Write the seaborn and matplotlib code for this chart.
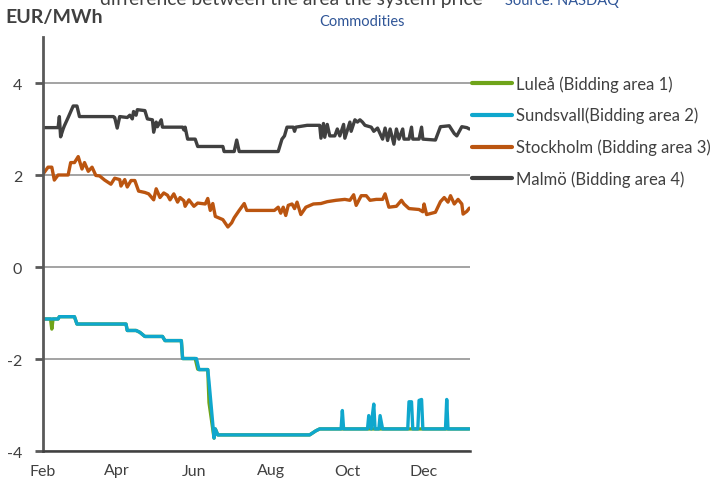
import matplotlib
matplotlib.use("Agg")
import matplotlib.pyplot as plt
import matplotlib.dates as mdates
import pandas as pd
import seaborn as sns

# Area price difference vs. system price, EUR/MWh (days counted from 1 Feb)
start_date = pd.Timestamp("2013-02-01")

lulea_day = [0, 6, 7, 8, 12, 13, 25, 27, 66, 67, 74, 77, 81, 95, 97, 110, 111, 121, 123, 124,
             131, 132, 136, 137, 139, 212, 217, 220, 339]
lulea_val = [-1.13, -1.13, -1.35, -1.13, -1.13, -1.08, -1.08, -1.24, -1.24, -1.38,
             -1.38, -1.42, -1.51, -1.51, -1.60, -1.60, -1.99, -1.99, -2.22, -2.23,
             -2.23, -2.95, -3.72, -3.52, -3.65, -3.65, -3.56, -3.52, -3.52]

sundsvall_day = [0, 12, 13, 25, 27, 66, 67, 74, 77, 81, 95, 97, 110, 111, 122, 124, 131, 132, 136, 137,
                 139, 212, 217, 220, 237, 238, 239, 258, 259, 261, 262, 263, 264, 267, 268, 270, 290, 291,
                 293, 294, 298, 299, 301, 302, 320, 321, 322, 339]
sundsvall_val = [-1.13, -1.13, -1.08, -1.08, -1.24, -1.24, -1.38, -1.38, -1.42, -1.51,
                 -1.51, -1.60, -1.60, -1.99, -1.99, -2.23, -2.23, -2.50, -3.72, -3.52,
                 -3.65, -3.65, -3.56, -3.52, -3.52, -3.12, -3.52, -3.52, -3.23, -3.52,
                 -3.20, -2.98, -3.52, -3.52, -3.23, -3.52, -3.52, -2.93, -2.93, -3.52,
                 -3.52, -2.90, -2.88, -3.52, -3.52, -2.88, -3.52, -3.52]

stockholm_day = [0, 4, 7, 9, 12, 20, 22, 25, 28, 31, 33, 36, 39, 42, 45, 49, 54, 57, 61, 62,
                 65, 67, 70, 73, 76, 81, 84, 88, 90, 93, 96, 99, 101, 104, 107, 109, 112, 113, 116, 120,
                 123, 129, 131, 133, 135, 137, 143, 147, 150, 152, 156, 160, 162, 184, 187, 189, 191, 193,
                 195, 198, 200, 202, 205, 209, 215, 221, 226, 233, 240, 244, 247, 249, 253, 257, 260, 265,
                 270, 272, 275, 281, 285, 287, 291, 299, 302, 303, 305, 312, 316, 319, 322, 324, 327, 330,
                 333, 334, 337, 339]
stockholm_val = [2.02, 2.17, 2.17, 1.89, 2.00, 2.00, 2.27, 2.27, 2.40, 2.13,
                 2.27, 2.08, 2.17, 1.99, 1.98, 1.89, 1.80, 1.93, 1.90, 1.76,
                 1.90, 1.74, 1.88, 1.88, 1.65, 1.62, 1.59, 1.46, 1.70, 1.51,
                 1.61, 1.56, 1.46, 1.59, 1.41, 1.51, 1.44, 1.32, 1.46, 1.32,
                 1.39, 1.37, 1.49, 1.23, 1.38, 1.10, 1.03, 0.87, 0.96, 1.07,
                 1.23, 1.38, 1.23, 1.23, 1.30, 1.17, 1.30, 1.12, 1.34, 1.37,
                 1.27, 1.41, 1.14, 1.30, 1.37, 1.38, 1.42, 1.45, 1.47, 1.45,
                 1.57, 1.34, 1.55, 1.55, 1.45, 1.47, 1.47, 1.59, 1.30, 1.32,
                 1.45, 1.37, 1.27, 1.25, 1.20, 1.37, 1.14, 1.19, 1.42, 1.51,
                 1.41, 1.55, 1.37, 1.47, 1.37, 1.15, 1.21, 1.28]

malmo_day = [0, 12, 13, 14, 16, 17, 20, 24, 27, 29, 56, 57, 59, 61, 67, 69, 71, 72, 74, 75,
             81, 83, 87, 88, 90, 91, 94, 95, 111, 112, 113, 115, 121, 123, 143, 144, 152, 154, 156, 187,
             188, 190, 192, 194, 199, 200, 201, 210, 220, 221, 223, 224, 226, 228, 232, 234, 236, 239,
             240, 244, 245, 248, 250, 252, 254, 256, 261, 263, 266, 270, 272, 274, 276, 279, 281, 283,
             286, 287, 291, 293, 294, 299, 301, 302, 312, 316, 323, 327, 329, 333, 337, 339]
malmo_val = [3.03, 3.03, 3.27, 2.83, 3.00, 3.07, 3.25, 3.50, 3.50, 3.27,
             3.27, 3.25, 3.02, 3.27, 3.25, 3.30, 3.22, 3.38, 3.30, 3.42,
             3.40, 3.22, 3.20, 2.93, 3.15, 3.05, 3.20, 3.04, 3.04, 2.98,
             3.04, 2.78, 2.78, 2.62, 2.62, 2.51, 2.51, 2.76, 2.51, 2.51,
             2.60, 2.78, 2.85, 3.04, 3.04, 2.95, 3.04, 3.08, 3.08, 2.80,
             3.12, 2.82, 3.10, 2.85, 2.85, 3.00, 2.85, 3.10, 2.80, 3.15,
             2.95, 3.20, 3.15, 3.20, 3.15, 3.08, 3.04, 2.95, 3.02, 2.78,
             3.02, 2.75, 3.00, 2.67, 3.00, 2.78, 3.00, 2.78, 2.78, 3.04,
             2.78, 2.78, 3.04, 2.78, 2.76, 3.05, 3.07, 2.90, 2.85, 3.05,
             3.03, 3.00]

series_names = ["Luleå (Bidding area 1)", "Sundsvall(Bidding area 2)",
                "Stockholm (Bidding area 3)", "Malmö (Bidding area 4)"]
series_colors = ["#6fa41a", "#0fa7cd", "#bb5510", "#404040"]
series_days = [lulea_day, sundsvall_day, stockholm_day, malmo_day]
series_vals = [lulea_val, sundsvall_val, stockholm_val, malmo_val]

y_ticks = [-4, -2, 0, 2, 4]

sns.set_theme(style="white")
plt.rcParams["font.family"] = ["Lato", "DejaVu Sans"]
plt.rcParams["axes.unicode_minus"] = False

fig = plt.figure(figsize=(7.18, 4.85), dpi=100)
ax = fig.add_axes([43 / 718, 1 - 452 / 485, (470 - 43) / 718, (452 - 38) / 485])

for name, days, vals, color in zip(series_names, series_days, series_vals, series_colors):
    df = pd.DataFrame({"date": start_date + pd.to_timedelta(days, unit="D"), "value": vals})
    sns.lineplot(data=df, x="date", y="value", color=color, linewidth=2.4,
                 label=name, estimator=None, ax=ax, solid_joinstyle="round")

ax.set_ylim(-4, 5)
ax.set_xlim(start_date, start_date + pd.Timedelta(days=339.5))
ax.set_yticks(y_ticks)
ax.set_yticklabels([str(t) for t in y_ticks])
ax.xaxis.set_major_locator(mdates.MonthLocator(bymonth=[2, 4, 6, 8, 10, 12]))
ax.xaxis.set_major_formatter(mdates.DateFormatter("%b"))
ax.set_xlabel("")
ax.set_ylabel("")

ax.set_axisbelow(True)
ax.yaxis.grid(True, color="#8a8a8a", linewidth=1.1)
ax.xaxis.grid(False)
for side in ["top", "right"]:
    ax.spines[side].set_visible(False)
ax.spines["left"].set_color("#595959")
ax.spines["left"].set_linewidth(2.0)
ax.spines["bottom"].set_color("#404040")
ax.spines["bottom"].set_linewidth(1.8)
ax.spines["bottom"].set_position(("data", -4))

ax.tick_params(axis="y", which="major", left=True, length=6, width=2.0, color="#595959",
               labelsize=11.5, labelcolor="#404040", pad=9)
ax.tick_params(axis="x", which="major", bottom=False, length=0, labelsize=11.5,
               labelcolor="#404040", pad=9)

leg = ax.legend(loc="upper left", bbox_to_anchor=(472 / 718, 1 - 76 / 485),
                bbox_transform=fig.transFigure, frameon=False, fontsize=12,
                handlelength=2.4, handletextpad=0.25, labelspacing=0.92,
                borderpad=0, borderaxespad=0)
for line in leg.get_lines():
    line.set_linewidth(3.0)
for txt in leg.get_texts():
    txt.set_color("#404040")

fig.text(5 / 718, 1 - 17 / 485, "EUR/MWh", fontsize=14, fontweight="bold",
         color="#404040", va="center", ha="left")
fig.text(100 / 718, 1 - 5 / 485, "difference between the area the system price",
         fontsize=13.9, color="#404040", va="baseline", ha="left")
fig.text(505 / 718, 1 - 5 / 485, "Source: NASDAQ", fontsize=10.5, color="#2f5597",
         va="baseline", ha="left")
fig.text(362 / 718, 1 - 22 / 485, "Commodities", fontsize=10.5, color="#2f5597",
         va="center", ha="center")

fig.savefig("out.png", dpi=100)
